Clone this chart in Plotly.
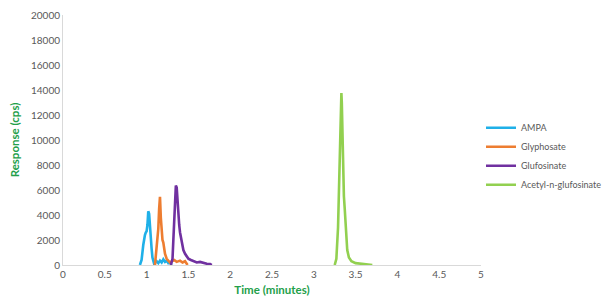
import plotly.graph_objects as go

ampa_t = [0.92, 0.94, 0.96, 0.97, 0.98, 0.99, 1.00, 1.01, 1.02, 1.03, 1.04, 1.05, 1.06, 1.07, 1.08, 1.09, 1.10, 1.12, 1.14, 1.16, 1.18, 1.20, 1.22, 1.24, 1.26, 1.28, 1.30]
ampa_v = [0, 400, 1600, 2300, 2400, 2600, 2700, 3200, 4300, 4100, 2900, 2400, 1300, 600, 250, 100, 150, 300, 150, 350, 200, 450, 250, 350, 150, 200, 0]

gly_t = [1.10, 1.12, 1.13, 1.14, 1.15, 1.16, 1.17, 1.18, 1.19, 1.20, 1.21, 1.22, 1.24, 1.26, 1.28, 1.30, 1.33, 1.36, 1.40, 1.43, 1.46, 1.49]
gly_v = [0, 1500, 2700, 2900, 4500, 5450, 3800, 2300, 2000, 1800, 1400, 900, 500, 300, 200, 300, 400, 250, 350, 200, 300, 0]

glu_t = [1.29, 1.31, 1.32, 1.33, 1.34, 1.35, 1.36, 1.37, 1.38, 1.39, 1.40, 1.41, 1.42, 1.44, 1.46, 1.48, 1.50, 1.53, 1.56, 1.60, 1.64, 1.68, 1.72, 1.76, 1.78]
glu_v = [0, 500, 2000, 3500, 5000, 6350, 6200, 4800, 3800, 3200, 2600, 2300, 1800, 1200, 900, 700, 500, 400, 300, 200, 250, 150, 100, 80, 0]

ace_t = [3.25, 3.27, 3.29, 3.30, 3.31, 3.32, 3.325, 3.33, 3.335, 3.34, 3.35, 3.36, 3.37, 3.38, 3.39, 3.40, 3.42, 3.45, 3.50, 3.55, 3.60, 3.65, 3.70]
ace_v = [0, 500, 3000, 6000, 9500, 12000, 12200, 13750, 13000, 11000, 8000, 5500, 4500, 3200, 2000, 1200, 600, 300, 150, 100, 80, 50, 0]

names = ["AMPA", "Glyphosate", "Glufosinate", "Acetyl-n-glufosinate"]
colors = ["#1fb0e8", "#ed7d31", "#7030a0", "#92d050"]
series = [(ampa_t, ampa_v), (gly_t, gly_v), (glu_t, glu_v), (ace_t, ace_v)]

fig = go.Figure()
for (t, v), n, c in zip(series, names, colors):
    fig.add_trace(go.Scatter(x=t, y=v, mode="lines", name=n,
                             line=dict(color=c, width=2.6)))

font_fam = "Lato, 'Open Sans', sans-serif"
green = "#23a04a"
fig.update_layout(
    width=615, height=307,
    margin=dict(l=63, r=133, t=8, b=42),
    paper_bgcolor="white", plot_bgcolor="white",
    font=dict(family=font_fam, size=10, color="#595959"),
    showlegend=True,
    legend=dict(x=1.0, y=0.435, xanchor="left", yanchor="middle",
                font=dict(size=9, color="#595959"), tracegroupgap=0,
                itemwidth=30, bgcolor="rgba(0,0,0,0)", borderwidth=0),
    xaxis=dict(range=[0, 5], dtick=0.5, tick0=0, showgrid=False, zeroline=False,
               showline=True, linecolor="#d9d9d9", linewidth=1,
               ticks="", tickfont=dict(size=10, color="#595959"),
               title=dict(text="<b>Time (minutes)</b>", font=dict(size=11.5, color=green), standoff=6)),
    yaxis=dict(range=[0, 20000], dtick=2000, tickformat="d", showgrid=False, zeroline=False,
               showline=True, linecolor="#d9d9d9", linewidth=1,
               ticks="", tickfont=dict(size=10, color="#595959"),
               title=dict(text="<b>Response (cps)</b>", font=dict(size=11.5, color=green), standoff=8)),
)
fig.write_html("out.html")
